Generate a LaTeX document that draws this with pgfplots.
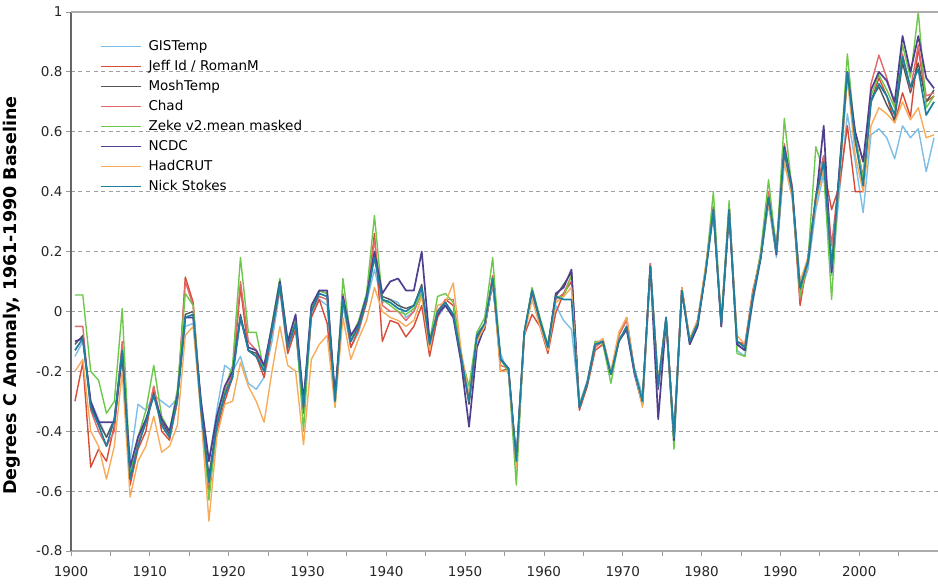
\documentclass[border=0pt]{standalone}
\usepackage{fontspec}
\setmainfont{DejaVu Sans}
\usepackage{pgfplots}
\usepackage{pgfplotstable}
\pgfplotsset{compat=1.18}

\definecolor{cGIS}{RGB}{125,190,232}
\definecolor{cJeff}{RGB}{215,75,55}
\definecolor{cMosh}{RGB}{85,85,85}
\definecolor{cChad}{RGB}{228,105,105}
\definecolor{cZeke}{RGB}{110,200,75}
\definecolor{cNCDC}{RGB}{80,62,145}
\definecolor{cHad}{RGB}{247,172,90}
\definecolor{cNick}{RGB}{30,128,158}

% annual anomalies
\pgfplotstableread{
year gis jeff mosh chad zeke ncdc had nick
1900 -0.15 -0.30 -0.11 -0.05 0.055 -0.10 -0.20 -0.13
1901 -0.10 -0.17 -0.08 -0.05 0.055 -0.09 -0.16 -0.09
1902 -0.30 -0.52 -0.31 -0.33 -0.20 -0.30 -0.40 -0.32
1903 -0.36 -0.46 -0.37 -0.40 -0.23 -0.37 -0.45 -0.38
1904 -0.42 -0.50 -0.42 -0.45 -0.34 -0.37 -0.56 -0.45
1905 -0.36 -0.38 -0.36 -0.40 -0.30 -0.37 -0.45 -0.36
1906 -0.14 -0.15 -0.12 -0.10 0.01 -0.14 -0.20 -0.13
1907 -0.50 -0.58 -0.55 -0.56 -0.54 -0.52 -0.62 -0.56
1908 -0.31 -0.46 -0.44 -0.44 -0.42 -0.42 -0.50 -0.45
1909 -0.33 -0.40 -0.37 -0.37 -0.33 -0.36 -0.45 -0.37
1910 -0.28 -0.25 -0.27 -0.25 -0.18 -0.28 -0.35 -0.28
1911 -0.30 -0.40 -0.37 -0.38 -0.35 -0.36 -0.47 -0.38
1912 -0.32 -0.43 -0.41 -0.42 -0.40 -0.40 -0.45 -0.42
1913 -0.29 -0.30 -0.29 -0.30 -0.26 -0.28 -0.38 -0.29
1914 -0.05 0.115 -0.01 0.10 0.06 -0.02 -0.08 -0.02
1915 -0.04 0.03 0.00 0.02 0.02 -0.02 -0.05 -0.01
1916 -0.30 -0.32 -0.32 -0.33 -0.32 -0.30 -0.35 -0.33
1917 -0.50 -0.60 -0.55 -0.58 -0.63 -0.50 -0.70 -0.57
1918 -0.33 -0.40 -0.37 -0.38 -0.38 -0.35 -0.42 -0.38
1919 -0.18 -0.30 -0.27 -0.28 -0.26 -0.25 -0.31 -0.28
1920 -0.20 -0.22 -0.21 -0.20 -0.18 -0.20 -0.30 -0.22
1921 -0.15 0.08 -0.01 0.10 0.18 -0.02 -0.17 -0.02
1922 -0.24 -0.13 -0.13 -0.10 -0.07 -0.12 -0.25 -0.13
1923 -0.26 -0.15 -0.14 -0.13 -0.07 -0.13 -0.30 -0.15
1924 -0.22 -0.22 -0.19 -0.20 -0.20 -0.18 -0.37 -0.20
1925 -0.10 -0.07 -0.05 -0.05 -0.04 -0.05 -0.20 -0.06
1926 0.07 0.08 0.10 0.10 0.11 0.10 -0.05 0.09
1927 -0.14 -0.14 -0.11 -0.12 -0.10 -0.10 -0.18 -0.12
1928 -0.05 -0.06 -0.03 -0.04 -0.03 -0.01 -0.20 -0.04
1929 -0.34 -0.34 -0.31 -0.32 -0.40 -0.30 -0.445 -0.32
1930 -0.01 -0.02 0.01 0.00 0.01 0.02 -0.16 0.00
1931 0.04 0.04 0.07 0.05 0.07 0.07 -0.11 0.06
1932 0.02 -0.04 0.06 0.04 0.06 0.07 -0.08 0.05
1933 -0.30 -0.30 -0.29 -0.30 -0.32 -0.28 -0.32 -0.30
1934 0.02 0.05 0.04 0.06 0.11 0.05 -0.02 0.04
1935 -0.12 -0.12 -0.09 -0.10 -0.09 -0.08 -0.16 -0.10
1936 -0.07 -0.06 -0.04 -0.05 -0.03 -0.04 -0.09 -0.05
1937 0.03 0.03 0.05 0.05 0.06 0.05 -0.03 0.04
1938 0.14 0.26 0.19 0.24 0.32 0.20 0.08 0.18
1939 0.03 -0.10 0.05 0.02 0.04 0.06 0.00 0.04
1940 0.04 -0.03 0.04 0.00 0.02 0.10 -0.02 0.03
1941 0.03 -0.04 0.02 0.00 0.00 0.11 -0.03 0.01
1942 -0.02 -0.085 0.01 -0.03 -0.01 0.07 -0.05 0.00
1943 0.00 -0.05 0.02 0.00 0.01 0.07 -0.03 0.02
1944 0.07 0.02 0.09 0.06 0.06 0.20 0.05 0.08
1945 -0.12 -0.15 -0.11 -0.12 -0.10 -0.10 -0.13 -0.11
1946 -0.02 -0.02 0.00 0.00 0.05 -0.01 0.02 0.00
1947 0.02 0.04 0.03 0.04 0.06 0.02 0.03 0.03
1948 -0.02 0.02 -0.01 0.04 0.03 -0.02 0.095 -0.01
1949 -0.16 -0.16 -0.15 -0.15 -0.15 -0.17 -0.13 -0.15
1950 -0.28 -0.30 -0.31 -0.30 -0.25 -0.385 -0.28 -0.30
1951 -0.07 -0.09 -0.09 -0.08 -0.07 -0.12 -0.10 -0.08
1952 -0.05 -0.06 -0.04 -0.04 -0.02 -0.05 -0.05 -0.04
1953 0.09 0.12 0.10 0.12 0.18 0.10 0.10 0.11
1954 -0.14 -0.20 -0.16 -0.18 -0.16 -0.16 -0.20 -0.16
1955 -0.21 -0.19 -0.19 -0.19 -0.20 -0.19 -0.20 -0.19
1956 -0.48 -0.52 -0.50 -0.51 -0.58 -0.50 -0.52 -0.50
1957 -0.08 -0.08 -0.07 -0.07 -0.07 -0.08 -0.08 -0.07
1958 0.06 -0.01 0.07 0.06 0.08 0.07 0.04 0.07
1959 -0.04 -0.05 -0.03 -0.03 -0.02 -0.03 -0.05 -0.03
1960 -0.12 -0.14 -0.12 -0.13 -0.11 -0.12 -0.13 -0.12
1961 0.02 -0.005 0.05 0.04 0.05 0.06 0.03 0.05
1962 -0.03 0.06 0.09 0.06 0.05 0.08 0.05 0.04
1963 -0.06 0.10 0.13 0.12 0.12 0.14 0.08 0.04
1964 -0.31 -0.33 -0.32 -0.32 -0.31 -0.32 -0.32 -0.32
1965 -0.23 -0.25 -0.24 -0.24 -0.24 -0.24 -0.24 -0.24
1966 -0.10 -0.13 -0.11 -0.12 -0.10 -0.11 -0.11 -0.11
1967 -0.10 -0.11 -0.10 -0.10 -0.11 -0.10 -0.09 -0.10
1968 -0.20 -0.21 -0.21 -0.21 -0.24 -0.21 -0.20 -0.21
1969 -0.09 -0.08 -0.10 -0.08 -0.10 -0.10 -0.07 -0.10
1970 -0.06 -0.02 -0.05 -0.03 -0.05 -0.06 -0.02 -0.05
1971 -0.19 -0.20 -0.20 -0.20 -0.20 -0.21 -0.20 -0.20
1972 -0.28 -0.31 -0.30 -0.31 -0.30 -0.31 -0.32 -0.30
1973 0.14 0.15 0.16 0.16 0.15 0.15 0.14 0.15
1974 -0.24 -0.24 -0.26 -0.25 -0.24 -0.36 -0.24 -0.25
1975 -0.03 -0.02 -0.02 -0.02 -0.02 -0.03 -0.03 -0.02
1976 -0.41 -0.42 -0.42 -0.42 -0.46 -0.43 -0.42 -0.42
1977 0.06 0.08 0.07 0.08 0.07 0.07 0.08 0.07
1978 -0.09 -0.10 -0.10 -0.10 -0.11 -0.11 -0.09 -0.10
1979 -0.03 -0.03 -0.04 -0.04 -0.05 -0.05 -0.03 -0.04
1980 0.12 0.14 0.13 0.14 0.13 0.13 0.15 0.13
1981 0.32 0.35 0.34 0.35 0.40 0.34 0.34 0.34
1982 -0.04 -0.05 -0.04 -0.04 -0.04 -0.05 -0.03 -0.04
1983 0.33 0.35 0.33 0.35 0.37 0.33 0.34 0.34
1984 -0.13 -0.10 -0.11 -0.10 -0.14 -0.11 -0.08 -0.10
1985 -0.15 -0.11 -0.13 -0.12 -0.15 -0.13 -0.11 -0.12
1986 0.03 0.07 0.05 0.06 0.05 0.04 0.06 0.05
1987 0.17 0.18 0.18 0.19 0.20 0.18 0.19 0.18
1988 0.36 0.38 0.38 0.40 0.44 0.38 0.36 0.38
1989 0.18 0.22 0.20 0.21 0.20 0.19 0.20 0.20
1990 0.50 0.54 0.53 0.56 0.645 0.55 0.50 0.54
1991 0.38 0.40 0.40 0.42 0.40 0.41 0.38 0.40
1992 0.06 0.02 0.07 0.04 0.05 0.08 0.10 0.08
1993 0.14 0.18 0.16 0.17 0.17 0.17 0.18 0.17
1994 0.34 0.38 0.38 0.39 0.55 0.37 0.36 0.38
1995 0.46 0.48 0.52 0.52 0.47 0.62 0.48 0.50
1996 0.12 0.34 0.16 0.22 0.04 0.13 0.17 0.15
1997 0.40 0.42 0.47 0.46 0.47 0.48 0.44 0.46
1998 0.66 0.62 0.79 0.78 0.86 0.80 0.78 0.80
1999 0.50 0.40 0.58 0.58 0.58 0.60 0.52 0.57
2000 0.33 0.40 0.44 0.45 0.445 0.50 0.40 0.42
2001 0.59 0.70 0.71 0.76 0.72 0.74 0.62 0.70
2002 0.61 0.78 0.75 0.856 0.79 0.80 0.68 0.76
2003 0.58 0.72 0.69 0.78 0.74 0.77 0.66 0.72
2004 0.51 0.63 0.64 0.69 0.68 0.70 0.63 0.656
2005 0.62 0.73 0.83 0.86 0.89 0.92 0.70 0.85
2006 0.58 0.65 0.73 0.74 0.78 0.80 0.64 0.75
2007 0.61 0.88 0.83 0.89 1.00 0.92 0.68 0.81
2008 0.467 0.70 0.70 0.72 0.68 0.78 0.58 0.656
2009 0.58 0.72 0.74 0.73 0.72 0.745 0.59 0.70
}\temps

\begin{document}
\begin{tikzpicture}
\begin{axis}[
    name=ax,
    scale only axis,
    width=867pt, height=539pt,
    xmin=1899.5, xmax=2009.5,
    ymin=-0.8, ymax=1,
    clip mode=individual,
    axis x line*=bottom,
    axis y line*=left,
    x axis line style={draw=gray!65, line width=2.5pt},
    y axis line style={draw=black!60, line width=1.5pt},
    % ticks and labels sit on the category boundaries
    xtick={1899.5,1909.5,...,1999.5},
    xticklabels={1900,1910,1920,1930,1940,1950,1960,1970,1980,1990,2000},
    xticklabel style={yshift=-7pt},
    minor xtick={1904.5,1914.5,...,2004.5},
    ytick={-0.8,-0.6,-0.4,-0.2,0,0.2,0.4,0.6,0.8,1},
    yticklabel style={/pgf/number format/fixed, /pgf/number format/precision=1},
    /pgf/number format/assume math mode=true,
    tick label style={font=\fontsize{13.5}{16}\selectfont, text=black!85},
    tick align=outside,
    major tick length=5pt, minor tick length=5pt,
    tick style={draw=gray!80, line width=0.8pt},
    ymajorgrids,
    major grid style={draw=gray!75, line width=1pt, dash pattern=on 4pt off 3.5pt},
    every axis y label/.style={at={([xshift=-59pt]axis description cs:0,0.474)},
        rotate=90, anchor=center, font=\bfseries\fontsize{17.5}{20}\selectfont},
    ylabel={Degrees C Anomaly, 1961-1990 Baseline},
    legend style={draw=none, fill=none, inner sep=0pt,
        at={(axis description cs:0.033,0.949)}, anchor=north west,
        font=\fontsize{13.5}{16}\selectfont, row sep=6.5pt,
        nodes={inner sep=0pt, text height=10.5pt, text depth=3pt},
        /tikz/every odd column/.append style={column sep=7pt}},
    legend cell align=left,
    legend image code/.code={\draw[#1] (0pt,0pt) -- (40pt,0pt);},
    every axis plot/.append style={no marks, line width=1.4pt, line join=round},
]
  \addplot[cGIS]  table[x=year, y=gis]  {\temps};
  \addplot[cJeff] table[x=year, y=jeff] {\temps};
  \addplot[cMosh] table[x=year, y=mosh] {\temps};
  \addplot[cChad] table[x=year, y=chad] {\temps};
  \addplot[cZeke] table[x=year, y=zeke] {\temps};
  \addplot[cNCDC, line width=1.7pt] table[x=year, y=ncdc] {\temps};
  \addplot[cHad]  table[x=year, y=had]  {\temps};
  \addplot[cNick, line width=1.7pt] table[x=year, y=nick] {\temps};
  \legend{GISTemp, Jeff Id / RomanM, MoshTemp, Chad, Zeke v2.mean masked, NCDC, HadCRUT, Nick Stokes}
  % top border of the plot area
  \draw[gray!65, line width=2.5pt] (rel axis cs:0,1) -- (rel axis cs:1,1);
\end{axis}
\pgfresetboundingbox
\path[use as bounding box] ([xshift=-71pt,yshift=-35pt]ax.south west) rectangle ([yshift=12pt]ax.north east);
\end{tikzpicture}
\end{document}
